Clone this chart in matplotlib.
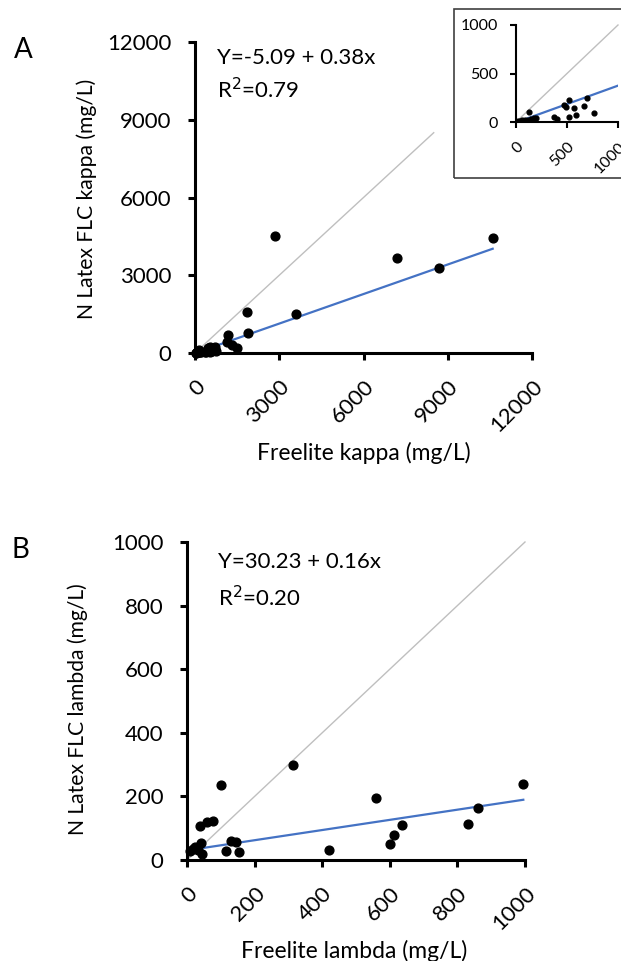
import numpy as np
import matplotlib.pyplot as plt
from matplotlib.patches import Rectangle

plt.rcParams['font.family'] = ['Lato', 'DejaVu Sans']

# Panel A: kappa (mg/L)
kappa_freelite = [20, 40, 60, 90, 120, 150, 180, 200, 130, 370, 405, 475, 490, 520,
                  520, 570, 590, 665, 700, 760, 1130, 1190, 1300, 1480, 1840, 1870,
                  2850, 3600, 7200, 8700, 10600]
kappa_nlatex = [10, 15, 20, 25, 20, 30, 40, 45, 105, 55, 28, 180, 150, 225,
                50, 145, 70, 165, 250, 90, 440, 700, 310, 180, 1570, 760,
                4500, 1500, 3650, 3280, 4450]
kappa_fit = (-5.09, 0.38)
kappa_ticks = [0, 3000, 6000, 9000, 12000]
inset_ticks = [0, 500, 1000]

# Panel B: lambda (mg/L)
lambda_freelite = [10, 18, 25, 32, 38, 40, 43, 60, 77, 100, 115, 130, 145, 155,
                   315, 420, 560, 600, 612, 635, 830, 860, 995]
lambda_nlatex = [28, 35, 40, 30, 107, 52, 20, 118, 122, 235, 28, 60, 58, 26,
                 300, 33, 195, 51, 80, 110, 114, 165, 238]
lambda_fit = (30.23, 0.16)
lambda_ticks = [0, 200, 400, 600, 800, 1000]

blue = '#4472C4'
grey = '#BFBFBF'


def style_axes(ax, ticks, xsize=16, ysize=16, lw=2.2, tlen=5, pad=12):
    for s in ['top', 'right']:
        ax.spines[s].set_visible(False)
    for s in ['left', 'bottom']:
        ax.spines[s].set_linewidth(lw)
    ax.set_xlim(ticks[0], ticks[-1])
    ax.set_ylim(ticks[0], ticks[-1])
    ax.set_xticks(ticks)
    ax.set_yticks(ticks)
    ax.tick_params(width=lw, length=tlen, pad=pad, direction='out')
    ax.tick_params(axis='x', labelsize=xsize)
    ax.tick_params(axis='y', labelsize=ysize)
    for lab in ax.get_xticklabels():
        lab.set_rotation(45)
        lab.set_ha('right')
        lab.set_rotation_mode('anchor')


def draw(ax, x, y, fit, line_end, id_end, s, clip=False):
    ax.plot([0, id_end], [0, id_end], color=grey, lw=1, zorder=1, clip_on=False)
    xs = np.array([0, line_end])
    ax.plot(xs, fit[0] + fit[1] * xs, color=blue, lw=1.6, zorder=2)
    ax.scatter(x, y, s=s, color='black', zorder=3, clip_on=clip)


fig = plt.figure(figsize=(6.21, 9.61), dpi=100)

# --- A ---
axA = fig.add_axes([195 / 621, 1 - 353 / 961, 337 / 621, 311 / 961])
draw(axA, kappa_freelite, kappa_nlatex, kappa_fit, max(kappa_freelite), 8500, 40)
style_axes(axA, kappa_ticks)
axA.set_xlabel('Freelite kappa (mg/L)', fontsize=16.5)
axA.set_ylabel('N Latex FLC kappa (mg/L)', fontsize=15.2)
axA.xaxis.set_label_coords(0.5, -0.286)
axA.yaxis.set_label_coords(-0.291, 0.495)
axA.text(0.065, 0.949, 'Y=-5.09 + 0.38x', transform=axA.transAxes, fontsize=16, va='center')
axA.text(0.065, 0.846, 'R$^2$=0.79', transform=axA.transAxes, fontsize=16, va='center')
fig.text(23 / 621, 1 - 50 / 961, 'A', fontsize=20, ha='center', va='center')

# inset
fig.add_artist(Rectangle((454 / 621, 1 - 178 / 961), 0.3, 169 / 961,
                         transform=fig.transFigure, fill=False, ec='#404040', lw=1.2))
axI = fig.add_axes([516 / 621, 1 - 122 / 961, 102 / 621, 97 / 961])
draw(axI, kappa_freelite, kappa_nlatex, kappa_fit, 1000, 1000, 12, clip=True)
style_axes(axI, inset_ticks, xsize=11.5, ysize=11.5, lw=1.5, tlen=4.3, pad=8.6)

# --- B ---
axB = fig.add_axes([187 / 621, 1 - 860 / 961, 338 / 621, 318 / 961])
draw(axB, lambda_freelite, lambda_nlatex, lambda_fit, max(lambda_freelite), 1000, 40)
style_axes(axB, lambda_ticks)
axB.set_xlabel('Freelite lambda (mg/L)', fontsize=16.5)
axB.set_ylabel('N Latex FLC lambda (mg/L)', fontsize=15.2)
axB.xaxis.set_label_coords(0.493, -0.252)
axB.yaxis.set_label_coords(-0.293, 0.475)
axB.text(0.092, 0.937, 'Y=30.23 + 0.16x', transform=axB.transAxes, fontsize=16, va='center')
axB.text(0.092, 0.824, 'R$^2$=0.20', transform=axB.transAxes, fontsize=16, va='center')
fig.text(20 / 621, 1 - 550 / 961, 'B', fontsize=20, ha='center', va='center')

plt.savefig('out.png', dpi=100)
